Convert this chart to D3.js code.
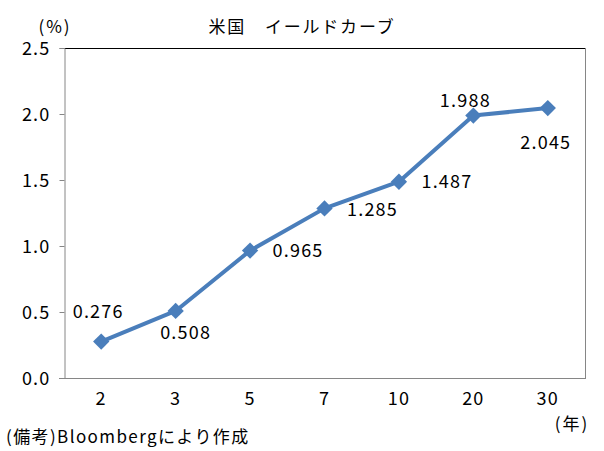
<!DOCTYPE html>
<html><head><meta charset="utf-8">
<script src="https://cdn.jsdelivr.net/npm/d3@7"></script>
<style>
body{margin:0;background:#fff;}
text{font-family:"MS Gothic","Noto Sans CJK JP",sans-serif;fill:#000;}
</style></head>
<body><svg id="c" width="604" height="451"></svg>
<script>
const categories = ["2","3","5","7","10","20","30"];
const yields = [0.276, 0.508, 0.965, 1.285, 1.487, 1.988, 2.045];
const labelTexts = ["0.276","0.508","0.965","1.285","1.487","1.988","2.045"];
const yTicks = [0, 0.5, 1.0, 1.5, 2.0, 2.5];
const title = "米国　イールドカーブ";
const yUnit = "(%)";
const xUnit = "(年)";
const note = "(備考)Bloombergにより作成";
// label offsets (dx, dy) from each marker
const labelOffsets = [[-3,-30],[10,22],[48,0],[48,1],[48,0],[-8,-15],[-2,35]];

const svg = d3.select("#c");
const L=64, R=585, T=48, B=378;
const x = d3.scaleBand().domain(categories).range([L,R]).padding(0);
const y = d3.scaleLinear().domain([0,2.5]).range([B,T]);
const cx = d => x(d)+x.bandwidth()/2;
const axisCol = "#868686";
const lineCol = "#4A7EBB";
const numFont = {size:"18px", ls:"1.2px"};

// plot border: top black, right gray
svg.append("line").attr("x1",L).attr("x2",R).attr("y1",T+0.5).attr("y2",T+0.5).attr("stroke","#000");
svg.append("line").attr("x1",R+0.5).attr("x2",R+0.5).attr("y1",T).attr("y2",B).attr("stroke",axisCol);

// y axis
const yAxis = d3.axisLeft(y).tickValues(yTicks).tickSize(5).tickPadding(8).tickFormat(d3.format(".1f"));
const gy = svg.append("g").attr("transform",`translate(${L+0.5},0)`).call(yAxis);
gy.select(".domain").attr("stroke",axisCol);
gy.selectAll(".tick line").attr("stroke",axisCol);
gy.selectAll(".tick text").attr("font-size",numFont.size).attr("letter-spacing",numFont.ls)
  .attr("font-family",'"Noto Sans CJK JP",sans-serif').attr("dy","0.35em").attr("x",-14);

// x axis
const xAxis = d3.axisBottom(x).tickSize(0).tickPadding(14);
const gx = svg.append("g").attr("transform",`translate(0,${B+0.5})`).call(xAxis);
gx.select(".domain").attr("stroke",axisCol).attr("d",`M${L-5},0H${R+1}`);
gx.selectAll(".tick text").attr("font-size",numFont.size).attr("letter-spacing",numFont.ls)
  .attr("font-family",'"Noto Sans CJK JP",sans-serif').attr("dy","0.71em");

// line
const line = d3.line().x((d,i)=>cx(categories[i])).y(d=>y(d));
svg.append("path").datum(yields).attr("d",line).attr("fill","none")
  .attr("stroke",lineCol).attr("stroke-width",4).attr("stroke-linejoin","round");

// markers
svg.selectAll(".m").data(yields).enter().append("path")
  .attr("d",d3.symbol().type(d3.symbolDiamond2).size(170)())
  .attr("transform",(d,i)=>`translate(${cx(categories[i])},${y(d)})`)
  .attr("fill",lineCol);

// data labels
svg.selectAll(".lb").data(yields).enter().append("text")
  .attr("x",(d,i)=>cx(categories[i])+labelOffsets[i][0])
  .attr("y",(d,i)=>y(d)+labelOffsets[i][1])
  .attr("text-anchor","middle").attr("dy","0.35em")
  .attr("font-size",numFont.size).attr("letter-spacing",numFont.ls)
  .attr("font-family",'"Noto Sans CJK JP",sans-serif')
  .text((d,i)=>labelTexts[i]);

// texts
svg.append("text").attr("x",302).attr("y",27).attr("dy","0.35em").attr("text-anchor","middle")
  .attr("font-size","17px").attr("letter-spacing","1.8px").text(title);
svg.append("text").attr("x",55).attr("y",27).attr("dy","0.35em").attr("text-anchor","middle")
  .attr("font-size","17px").attr("letter-spacing","2px").text(yUnit);
svg.append("text").attr("x",572).attr("y",424).attr("dy","0.35em").attr("text-anchor","middle")
  .attr("font-size","17px").attr("letter-spacing","2px").text(xUnit);
svg.append("text").attr("x",6).attr("y",437).attr("dy","0.35em").attr("text-anchor","start")
  .attr("font-size","17px").attr("letter-spacing","1.4px").text(note);
</script></body></html>
